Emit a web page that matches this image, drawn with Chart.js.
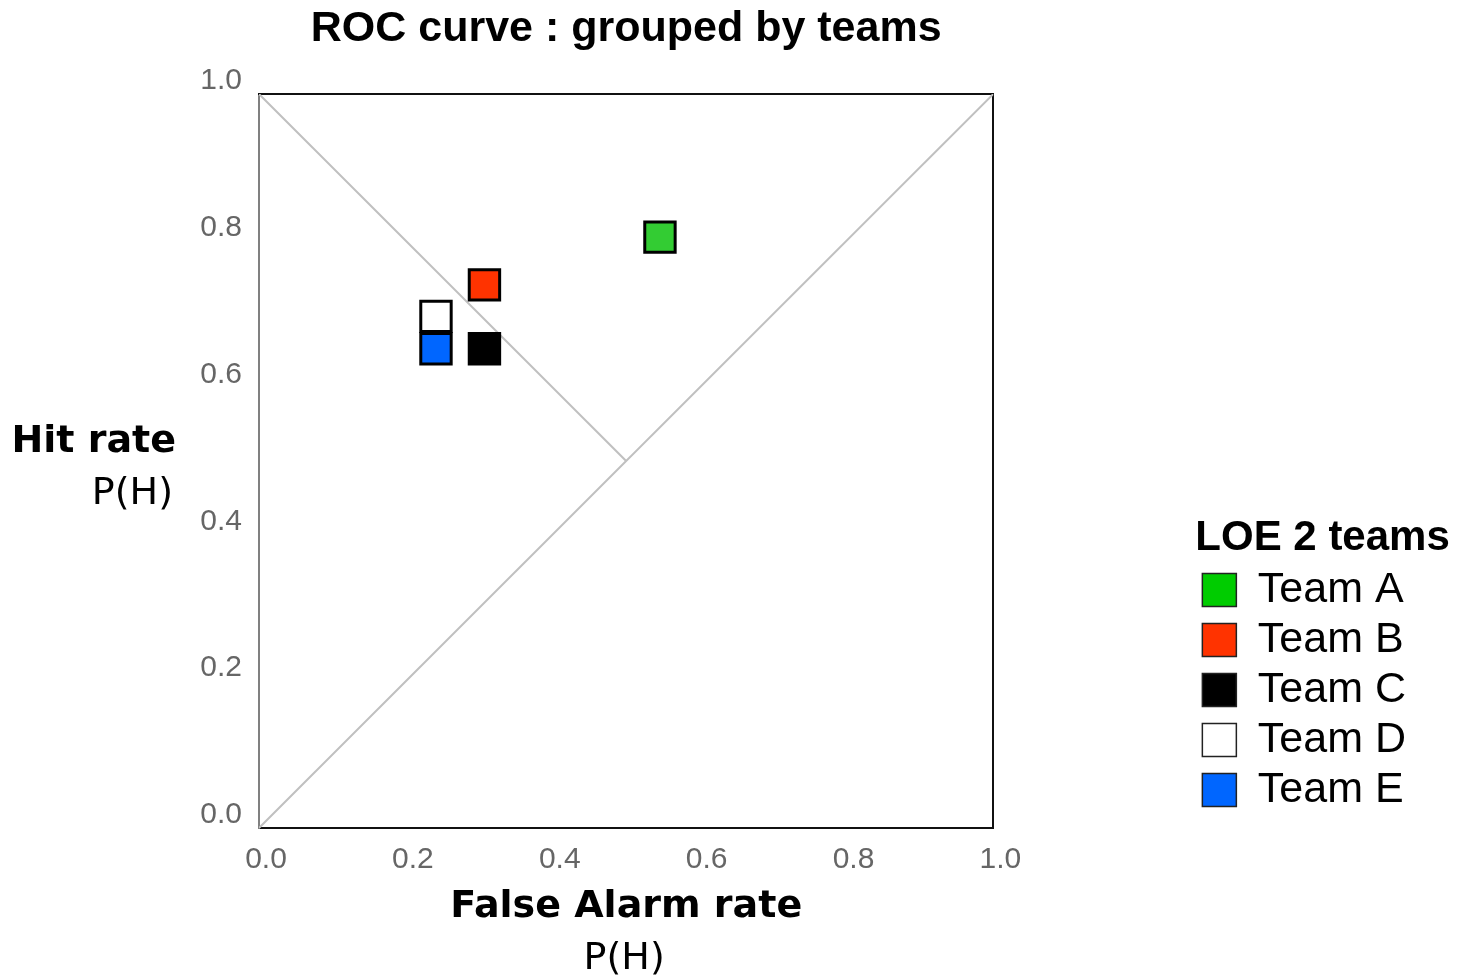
<!DOCTYPE html>
<html>
<head>
<meta charset="utf-8">
<script src="https://cdn.jsdelivr.net/npm/chart.js@4"></script>
<style>
  html, body { margin: 0; padding: 0; background: #fff; }
  #wrap { width: 1470px; height: 980px; position: relative; }
</style>
</head>
<body>
<div id="wrap"><canvas id="myChart"></canvas></div>
<script>
// data
var teams = ['Team A', 'Team B', 'Team C', 'Team D', 'Team E'];
var falseAlarm = [0.546, 0.307, 0.307, 0.241, 0.241];
var hitRate = [0.805, 0.740, 0.653, 0.697, 0.653];
var tickValues = [0, 0.2, 0.4, 0.6, 0.8, 1.0];
var tickLabels = ['0.0', '0.2', '0.4', '0.6', '0.8', '1.0'];
var chanceLine = [{x: 0, y: 0}, {x: 1, y: 1}];
var crossLine = [{x: 0, y: 1}, {x: 0.5, y: 0.5}];

// colours
var pointColors = ['#33cc33', '#ff3300', '#000000', '#ffffff', '#0066ff'];
var legendColors = ['#00cc00', '#ff3300', '#000000', '#ffffff', '#0066ff'];

function tickText(v) {
    var i = tickValues.indexOf(Math.round(v * 10) / 10);
    return i >= 0 ? tickLabels[i] : '';
}

var datasets = teams.map(function (t, i) {
    return {
        label: t,
        data: [{x: falseAlarm[i], y: hitRate[i]}],
        pointStyle: 'rect',
        pointRadius: 21.5,
        pointHoverRadius: 21.5,
        pointBackgroundColor: pointColors[i],
        pointBorderColor: '#000',
        pointBorderWidth: 3,
        pointHoverBorderWidth: 3,
        backgroundColor: pointColors[i],
        borderColor: '#000'
    };
});
datasets.push({
    label: 'chance',
    data: chanceLine,
    showLine: true,
    borderColor: '#c0c0c0',
    borderWidth: 2,
    pointRadius: 0,
    pointHoverRadius: 0
});
datasets.push({
    label: 'cross',
    data: crossLine,
    showLine: true,
    borderColor: '#c0c0c0',
    borderWidth: 2,
    pointRadius: 0,
    pointHoverRadius: 0
});

// horizontal axis titles (bold name + regular P(H) line)
var axisTitles = {
    id: 'axisTitles',
    afterLayout: function (chart) {
        // let the legend title run past the item column without being clipped
        var lg = chart.legend;
        if (lg) {
            lg.right = chart.width;
            lg.width = lg.right - lg.left;
        }
    },
    afterDraw: function (chart) {
        var ctx = chart.ctx, a = chart.chartArea;
        var midX = (a.left + a.right) / 2, midY = (a.top + a.bottom) / 2;
        ctx.save();
        ctx.fillStyle = '#000';
        ctx.textBaseline = 'middle';
        ctx.textAlign = 'right';
        ctx.font = 'bold 38px "DejaVu Sans"';
        ctx.fillText('Hit rate', a.left - 83, midY - 19);
        ctx.font = '38px "DejaVu Sans"';
        ctx.fillText('P(H)', a.left - 86, midY + 33);
        ctx.textAlign = 'center';
        ctx.font = 'bold 38px "DejaVu Sans"';
        ctx.fillText('False Alarm rate', midX, a.bottom + 79);
        ctx.font = '38px "DejaVu Sans"';
        ctx.fillText('P(H)', midX - 2, a.bottom + 131);
        ctx.restore();
    }
};

var tickFont = {family: 'Liberation Sans', size: 30};

var cvas = document.getElementById('myChart').getContext('2d');
var myChart = new Chart(cvas, {
    type: 'scatter',
    data: {datasets: datasets},
    plugins: [axisTitles],
    options: {
        responsive: true,
        maintainAspectRatio: false,
        animation: false,
        layout: {padding: {left: 0, right: 54, top: 0, bottom: 0}},
        plugins: {
            tooltip: {enabled: false},
            title: {
                display: true,
                text: 'ROC curve : grouped by teams',
                fullSize: false,
                color: '#000',
                font: {family: 'Liberation Sans', size: 43, weight: 'bold'},
                padding: {top: 3, bottom: 0}
            },
            legend: {
                position: 'right',
                align: 'start',
                fullSize: false,
                title: {
                    display: true,
                    text: 'LOE 2 teams',
                    position: 'start',
                    color: '#000',
                    font: {family: 'Liberation Sans', size: 42, weight: 'bold'},
                    padding: {top: 423, bottom: -6}
                },
                labels: {
                    boxWidth: 34,
                    boxHeight: 33,
                    padding: 7,
                    color: '#000',
                    font: {family: 'Liberation Sans', size: 43},
                    generateLabels: function () {
                        return teams.map(function (t, i) {
                            return {
                                text: t,
                                fillStyle: legendColors[i],
                                strokeStyle: '#222',
                                lineWidth: 1.5,
                                fontColor: '#000',
                                hidden: false,
                                datasetIndex: i
                            };
                        });
                    }
                }
            }
        },
        scales: {
            x: {
                type: 'linear',
                position: 'bottom',
                min: 0,
                max: 1,
                afterBuildTicks: function (s) { s.ticks = tickValues.map(function (v) { return {value: v}; }); },
                ticks: {font: tickFont, color: '#666', padding: 14, labelOffset: 7, maxRotation: 0, callback: tickText},
                grid: {display: false, drawTicks: false},
                border: {display: true, color: '#111', width: 2},
                afterFit: function (s) { s.height = 152; }
            },
            y: {
                type: 'linear',
                position: 'left',
                min: 0,
                max: 1,
                afterBuildTicks: function (s) { s.ticks = tickValues.map(function (v) { return {value: v}; }); },
                ticks: {font: tickFont, color: '#666', padding: 17, labelOffset: -13, callback: tickText},
                grid: {display: false, drawTicks: false},
                border: {display: true, color: '#808080', width: 2},
                afterFit: function (s) { s.width = 259; }
            },
            xTop: {
                type: 'linear',
                position: 'top',
                min: 0,
                max: 1,
                ticks: {display: false},
                grid: {display: false, drawTicks: false},
                border: {display: true, color: '#111', width: 2},
                afterFit: function (s) { s.height = 39.4; }
            },
            yRight: {
                type: 'linear',
                position: 'right',
                min: 0,
                max: 1,
                ticks: {display: false},
                grid: {display: false, drawTicks: false},
                border: {display: true, color: '#111', width: 2},
                afterFit: function (s) { s.width = 202; }
            }
        }
    }
});
</script>
</body>
</html>
